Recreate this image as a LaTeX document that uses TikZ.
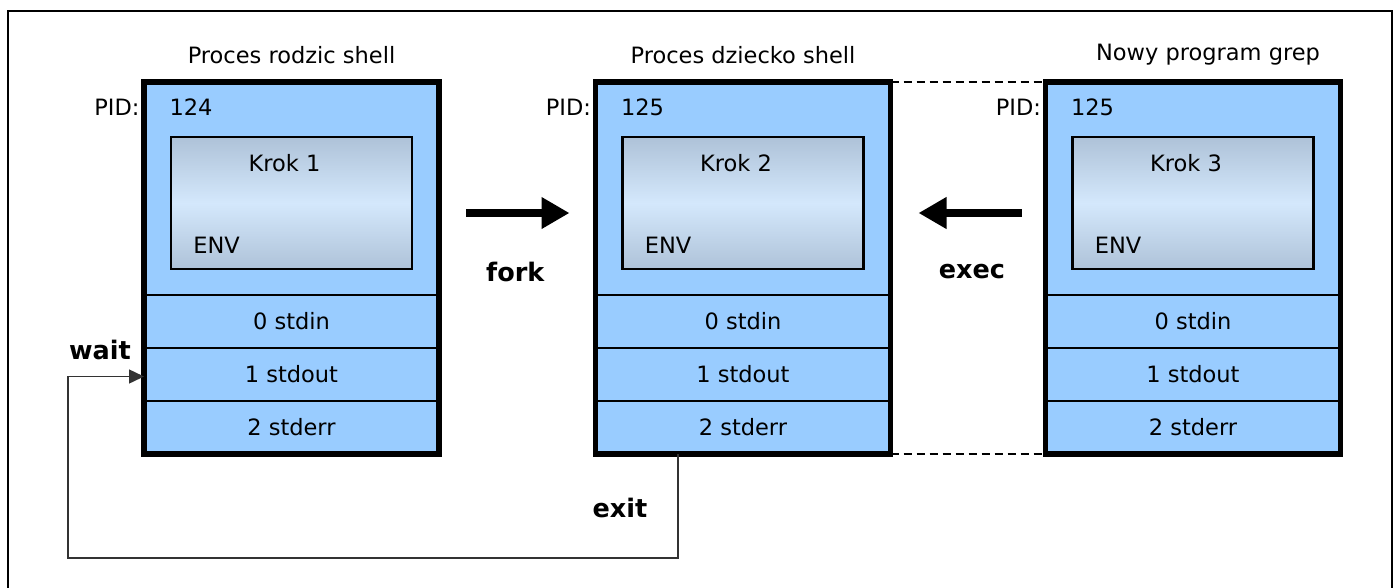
\documentclass[tikz,border=0pt]{standalone}
\usepackage{fontspec}
\setmainfont{DejaVu Sans}
\usetikzlibrary{arrows.meta,positioning,calc}

\definecolor{procblue}{HTML}{99CCFF}
\definecolor{envedge}{HTML}{AEC2D8}
\definecolor{envmid}{HTML}{D4E8FC}

\begin{document}
\begin{tikzpicture}[x=1pt,y=-1pt,font=\fontsize{22.5}{26}\selectfont,
sect/.style={draw=black,line width=1.8pt,fill=procblue,minimum width=295pt,inner sep=0pt,outer sep=0pt},
hdr/.style={sect,minimum height=213pt},fdrow/.style={sect,minimum height=53pt},
envbox/.style={draw=black,line width=2.2pt,top color=envedge,bottom color=envedge,middle color=envmid,
minimum width=241pt,minimum height=132pt,inner sep=0pt},
rim/.style={line width=5.5pt},bold/.style={font=\fontsize{25.5}{29}\selectfont\bfseries},
bigarr/.style={line width=8pt,-{Triangle[length=28pt,width=30pt]}},
thinarr/.style={line width=1.5pt,draw=black!80,-{Triangle[length=15pt,width=14pt]}}]
\useasboundingbox (0,0) rectangle (1395,587);
\draw[line width=1.5pt] (8,620) |- (1392,11) -- (1392,620);

% parent shell
\node[hdr] (top1) at (291.5,188.5) {};
\node[fdrow,below=0pt of top1] (in1) {0 stdin};
\node[fdrow,below=0pt of in1] (out1) {1 stdout};
\node[fdrow,below=0pt of out1] (err1) {2 stderr};
\draw[rim] (top1.north west) rectangle (err1.south east);
\node[envbox] (env1) at ([yshift=-54pt]top1.north) [anchor=north] {};
\node (krok1) at ([xshift=-7pt,yshift=-27pt]env1.north) {Krok 1};
\node[anchor=west] (envt1) at ([xshift=20pt,yshift=25pt]env1.south west) {ENV};
\node[anchor=east] (pid1) at ([xshift=-1pt,yshift=-25pt]top1.north west) {PID:};
\node[anchor=west] (pidv1) at ([xshift=22pt,yshift=-25pt]top1.north west) {124};
\node (title1) at ([yshift=27pt]top1.north) {Proces rodzic shell};

% child shell
\node[hdr] (top2) at (743,188.5) {};
\node[fdrow,below=0pt of top2] (in2) {0 stdin};
\node[fdrow,below=0pt of in2] (out2) {1 stdout};
\node[fdrow,below=0pt of out2] (err2) {2 stderr};
\draw[rim] (top2.north west) rectangle (err2.south east);
\node[envbox] (env2) at ([yshift=-54pt]top2.north) [anchor=north] {};
\node (krok2) at ([xshift=-7pt,yshift=-27pt]env2.north) {Krok 2};
\node[anchor=west] (envt2) at ([xshift=20pt,yshift=25pt]env2.south west) {ENV};
\node[anchor=east] (pid2) at ([xshift=-1pt,yshift=-25pt]top2.north west) {PID:};
\node[anchor=west] (pidv2) at ([xshift=22pt,yshift=-25pt]top2.north west) {125};
\node (title2) at ([yshift=27pt]top2.north) {Proces dziecko shell};

% new program
\node[hdr] (top3) at (1193,188.5) {};
\node[fdrow,below=0pt of top3] (in3) {0 stdin};
\node[fdrow,below=0pt of in3] (out3) {1 stdout};
\node[fdrow,below=0pt of out3] (err3) {2 stderr};
\draw[rim] (top3.north west) rectangle (err3.south east);
\node[envbox] (env3) at ([yshift=-54pt]top3.north) [anchor=north] {};
\node (krok3) at ([xshift=-7pt,yshift=-27pt]env3.north) {Krok 3};
\node[anchor=west] (envt3) at ([xshift=20pt,yshift=25pt]env3.south west) {ENV};
\node[anchor=east] (pid3) at ([xshift=-1pt,yshift=-25pt]top3.north west) {PID:};
\node[anchor=west] (pidv3) at ([xshift=22pt,yshift=-25pt]top3.north west) {125};
\node (title3) at ([xshift=15pt,yshift=27pt]top3.north) {Nowy program grep};

\draw[line width=1.5pt,dash pattern=on 8pt off 5pt] (top2.north east) -- (top3.north west);
\draw[line width=1.5pt,dash pattern=on 8pt off 5pt] (err2.south east) -- (err3.south west);

% fork / exec
\draw[bigarr,shorten <=27pt,shorten >=26pt] ([yshift=-24.5pt]top1.east) -- ([yshift=-24.5pt]top2.west);
\node[bold] (fork) at ($(top1.east)!0.5!(top2.west)+(-2,83)$) {fork};
\draw[bigarr,shorten <=24pt,shorten >=28pt] ([yshift=-24.5pt]top3.west) -- ([yshift=-24.5pt]top2.east);
\node[bold] (exec) at ($(top2.east)!0.5!(top3.west)+(4,83)$) {exec};

% exit / wait
\coordinate (loop) at (68,558);
\draw[thinarr] ([xshift=-65pt]err2.south) |- (loop) |- ([yshift=-2pt]out1.west);
\node[bold] (exit) at (620,508) {exit};
\node[bold] (wait) at (100,350) {wait};
\end{tikzpicture}
\end{document}
